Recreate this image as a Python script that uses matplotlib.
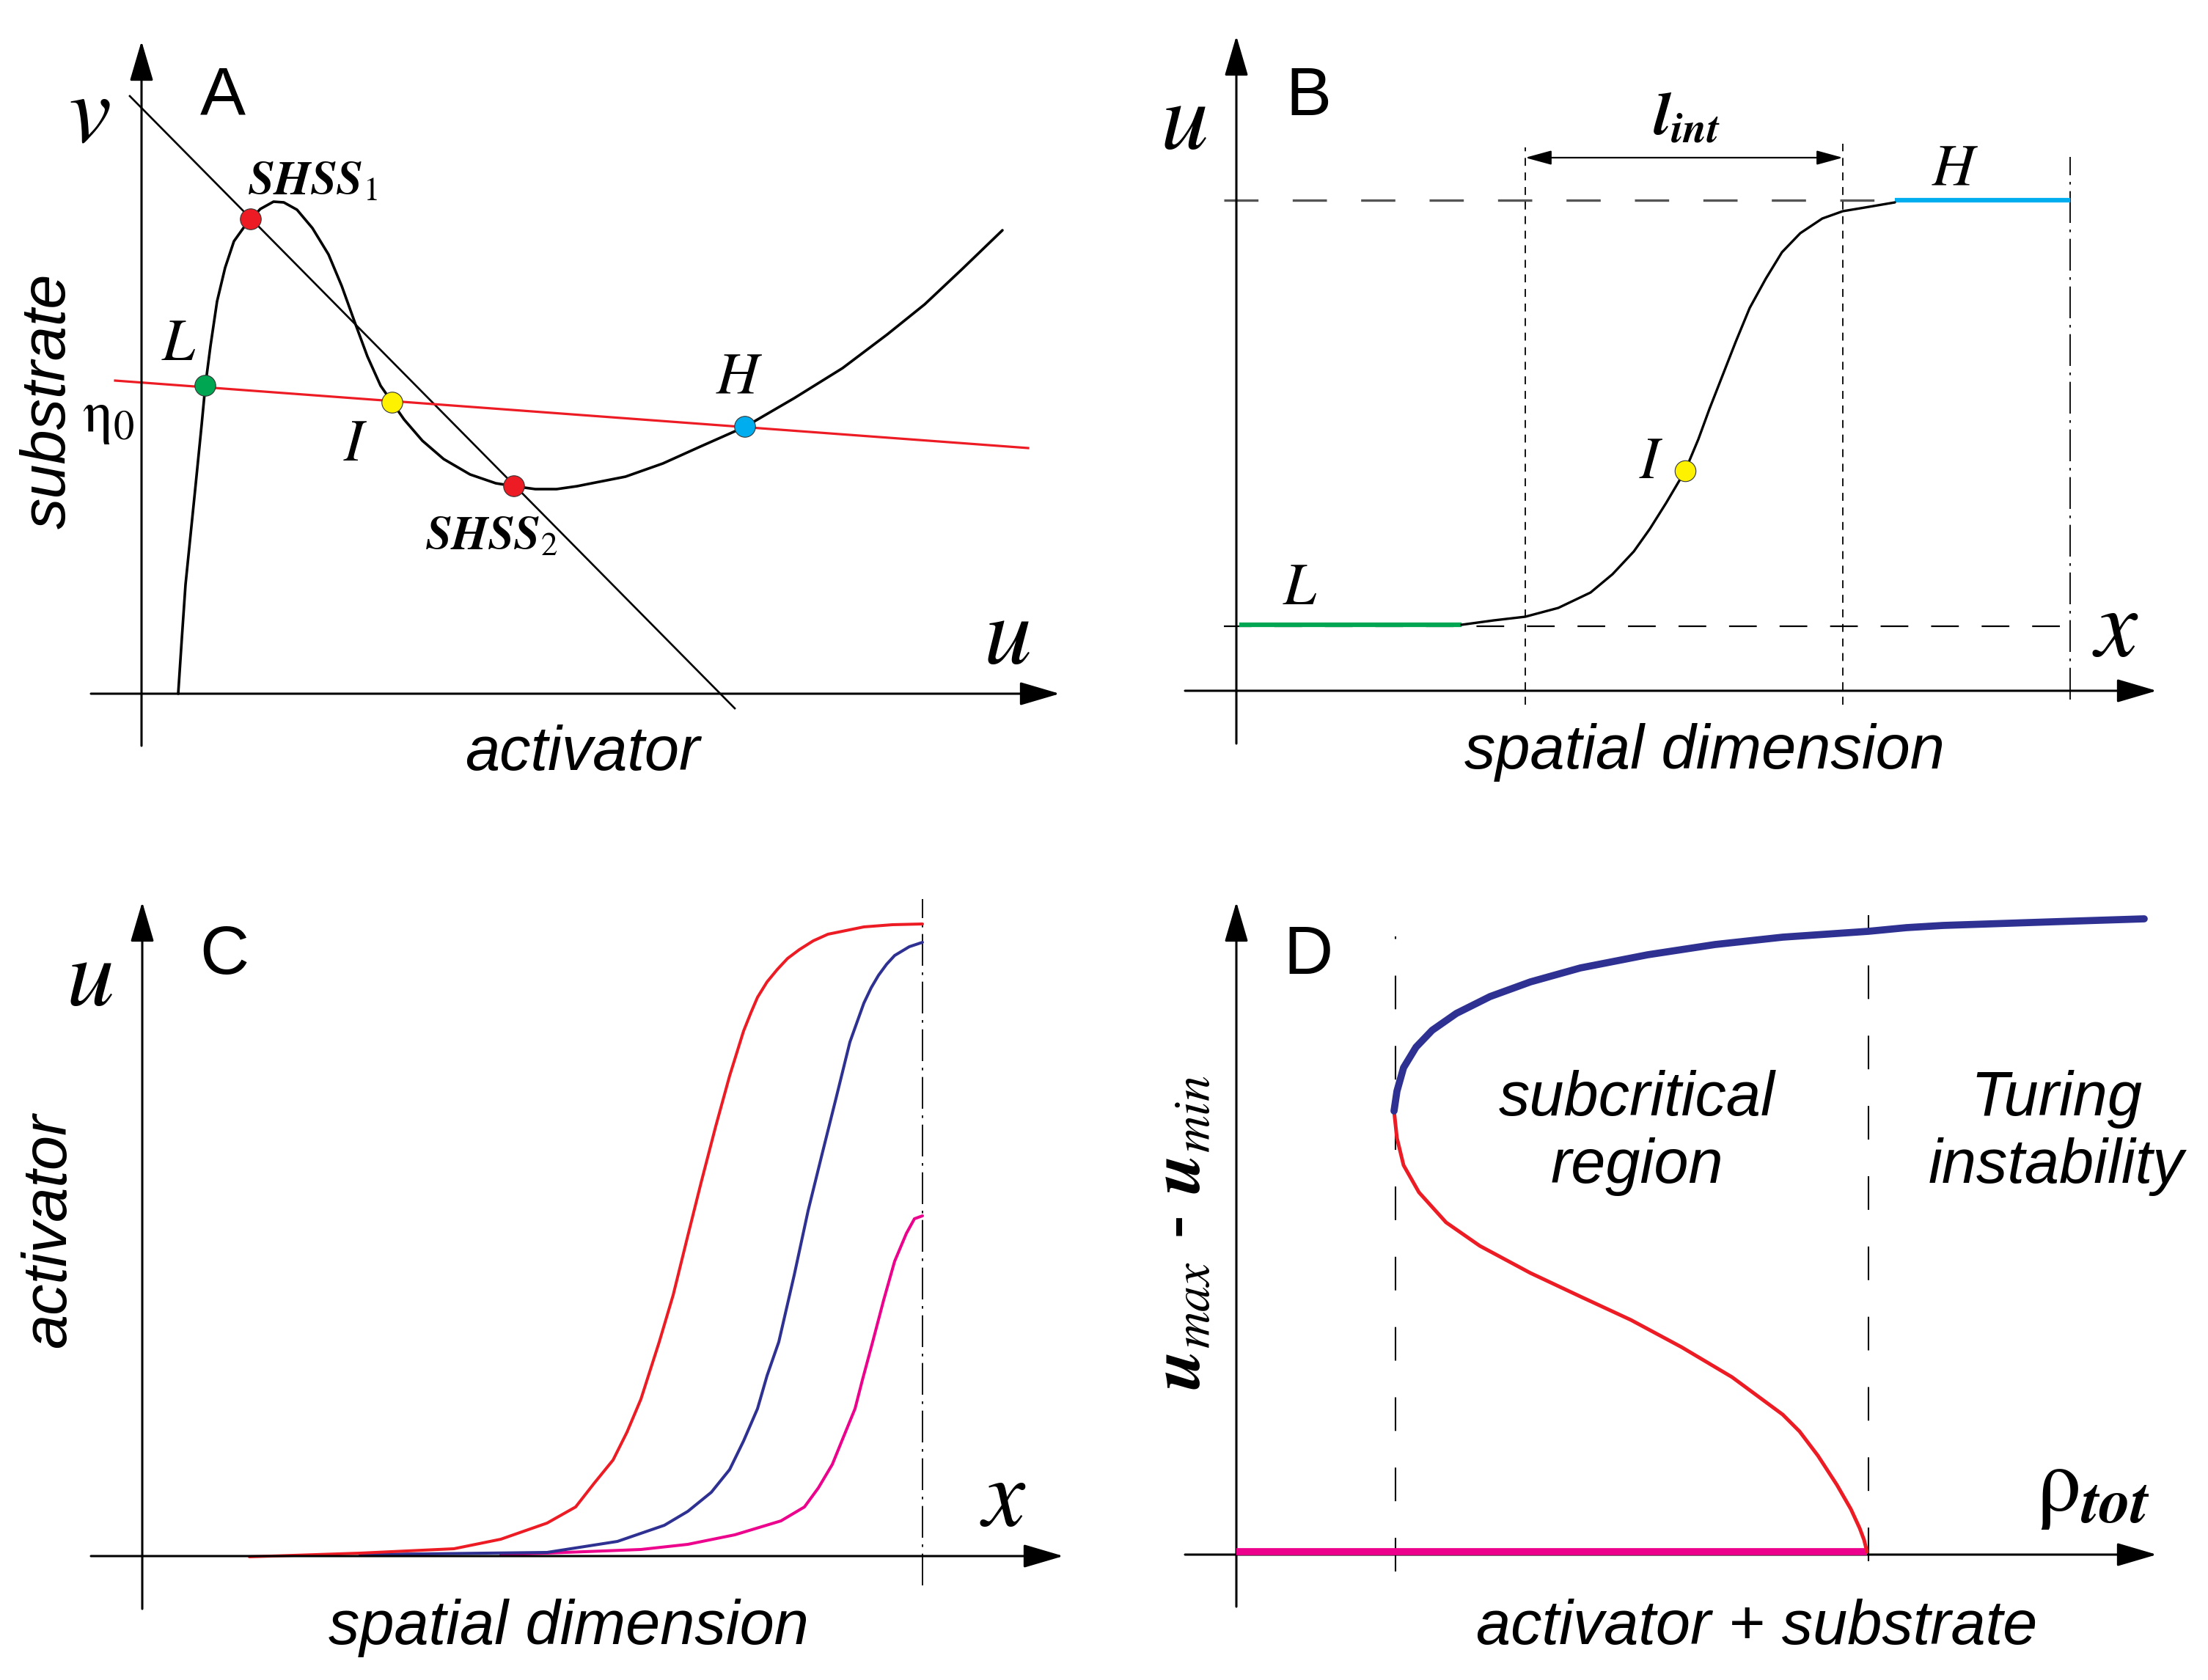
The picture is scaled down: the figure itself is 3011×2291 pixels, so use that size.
import matplotlib
matplotlib.use('Agg')
import matplotlib.pyplot as plt
from matplotlib.patches import FancyArrowPatch

plt.rcParams['mathtext.fontset'] = 'stix'
plt.rcParams['font.family'] = ['Liberation Sans', 'DejaVu Sans']

W, H = 3011, 2291

# ---- panel A: nullclines in the (u, v) plane
a_cubic_u = [0.50, 0.55, 0.60, 0.73, 0.82, 0.87, 0.94, 1.03, 1.14, 1.26, 1.41, 1.49,
             1.62, 1.80, 1.94, 2.12, 2.33, 2.55, 2.73, 2.91, 3.08, 3.26, 3.42, 3.58,
             3.83, 4.12, 4.48, 4.83, 5.08, 5.37, 5.66, 5.94, 6.09, 6.60, 7.11, 7.62,
             8.23, 8.90, 9.56, 10.17, 10.68, 11.19, 11.74]
a_cubic_v = [0.00, 0.76, 1.49, 2.77, 3.67, 4.20, 4.74, 5.35, 5.81, 6.17, 6.38, 6.47,
             6.61, 6.71, 6.70, 6.60, 6.35, 5.99, 5.56, 5.06, 4.60, 4.20, 3.97, 3.74,
             3.45, 3.20, 2.99, 2.87, 2.83, 2.79, 2.79, 2.83, 2.86, 2.96, 3.14, 3.37,
             3.64, 4.03, 4.44, 4.90, 5.31, 5.79, 6.32]
a_line_u = [-0.16, 8.09]
a_line_v = [8.15, -0.20]
a_eta_u = [-0.36, 12.09]
a_eta_v = [4.27, 3.35]
a_pts_u = [0.87, 1.49, 3.42, 5.08, 8.23]
a_pts_v = [4.20, 6.47, 3.97, 2.83, 3.64]
a_pts_col = ['#00a651', '#ed1c24', '#fff200', '#ed1c24', '#00aeef']

# ---- panel B: front profile
b_front_x = [3.07, 3.51, 3.94, 4.39, 4.83, 5.13, 5.42, 5.64, 5.86, 6.12, 6.30, 6.45,
             6.63, 6.81, 7.00, 7.22, 7.44, 7.69, 7.99, 8.27, 8.57, 8.98]
b_front_u = [0.90, 0.96, 1.01, 1.13, 1.34, 1.59, 1.90, 2.21, 2.56, 3.00, 3.43, 3.84,
             4.30, 4.76, 5.22, 5.62, 5.98, 6.24, 6.44, 6.54, 6.59, 6.66]
b_low_x = [0.04, 3.07]
b_low_u = [0.90, 0.90]
b_high_x = [8.98, 11.37]
b_high_u = [6.69, 6.69]
b_u_low = 0.88
b_u_high = 6.69
b_int_left, b_int_right = 3.94, 8.27
b_right_edge = 11.37
b_I = (6.12, 3.00)

# ---- panel C: activator profiles
c_red_x = [1.46, 2.97, 4.25, 4.89, 5.52, 5.91, 6.16, 6.42, 6.61, 6.80, 7.05, 7.24,
           7.43, 7.62, 7.82, 8.01, 8.20, 8.30, 8.39, 8.52, 8.66, 8.80, 8.96, 9.15,
           9.35, 9.84, 10.23, 10.64]
c_red_u = [-0.01, 0.04, 0.10, 0.23, 0.45, 0.67, 0.99, 1.31, 1.69, 2.14, 2.92, 3.56,
           4.33, 5.09, 5.86, 6.55, 7.16, 7.41, 7.62, 7.83, 8.00, 8.15, 8.27, 8.39,
           8.48, 8.58, 8.61, 8.62]
c_blue_x = [2.97, 5.52, 6.48, 7.12, 7.44, 7.76, 8.01, 8.20, 8.39, 8.52, 8.68, 8.89,
            9.08, 9.27, 9.46, 9.65, 9.84, 9.94, 10.04, 10.15, 10.26, 10.46, 10.64]
c_blue_u = [0.02, 0.05, 0.20, 0.42, 0.61, 0.87, 1.18, 1.57, 2.01, 2.46, 2.92, 3.83,
            4.71, 5.48, 6.24, 7.01, 7.54, 7.75, 7.92, 8.07, 8.19, 8.31, 8.37]
c_mag_x = [4.89, 5.52, 6.80, 7.44, 8.08, 8.71, 9.03, 9.22, 9.41, 9.54, 9.72, 9.82,
           9.96, 10.11, 10.26, 10.42, 10.53, 10.64]
c_mag_u = [0.02, 0.04, 0.09, 0.16, 0.29, 0.48, 0.67, 0.93, 1.25, 1.57, 2.01, 2.40,
           2.92, 3.49, 4.02, 4.40, 4.60, 4.64]
c_edge = 10.64

# ---- panel D: bifurcation diagram
d_blue_x = [2.15, 2.19, 2.28, 2.45, 2.67, 3.00, 3.46, 4.01, 4.69, 5.61, 6.53, 7.45,
            8.62, 9.14, 9.64, 11.14, 12.38]
d_blue_y = [6.05, 6.32, 6.64, 6.92, 7.15, 7.38, 7.61, 7.81, 8.00, 8.18, 8.32, 8.42,
            8.50, 8.55, 8.58, 8.63, 8.67]
d_red_x = [2.15, 2.19, 2.28, 2.49, 2.86, 3.32, 4.01, 4.69, 5.38, 6.07, 6.76, 7.45,
           7.68, 7.93, 8.19, 8.38, 8.50, 8.56, 8.60]
d_red_y = [6.05, 5.68, 5.31, 4.94, 4.53, 4.21, 3.84, 3.52, 3.20, 2.83, 2.42, 1.91,
           1.68, 1.35, 0.95, 0.62, 0.36, 0.20, 0.04]
d_mag_x = [0.00, 8.60]
d_mag_y = [0.04, 0.04]
d_sn = 2.17
d_turing = 8.62

RED = '#ed1c24'
BLUE = '#2e3192'
MAGENTA = '#ec008c'
GREEN = '#00a651'
CYAN = '#00aeef'
YELLOW = '#fff200'

SANS = dict(family=['Liberation Sans', 'DejaVu Sans'], style='italic', fontsize=61)
LETTER = dict(family=['Liberation Sans', 'DejaVu Sans'], fontsize=67)


def panel(fig, left, top, width, height, ox, oy):
    # axes placed in pixel units, 1 data unit = 100 px, origin at the axis crossing
    ax = fig.add_axes([left / W, 1 - (top + height) / H, width / W, height / H])
    ax.set_xlim((left - ox) / 100, (left + width - ox) / 100)
    ax.set_ylim((oy - top - height) / 100, (oy - top) / 100)
    ax.axis('off')
    return ax


def arrows(ax, x0, x1, y0, y1):
    for a, b in [((x0, 0), (x1, 0)), ((0, y0), (0, y1))]:
        ax.add_patch(FancyArrowPatch(a, b, arrowstyle='-|>,head_length=34,head_width=10',
                                     mutation_scale=1, lw=2.2, color='black',
                                     shrinkA=0, shrinkB=0, zorder=3))


def curve(ax, x, y, **kw):
    ax.plot(x, y, solid_joinstyle='round', solid_capstyle='round', **kw)


fig = plt.figure(figsize=(W / 100, H / 100), dpi=100)

# ================= A =================
ax = panel(fig, 0, 0, 1500, 1100, 193, 946)
arrows(ax, -0.69, 12.52, -0.71, 8.90)
ax.plot(a_line_u, a_line_v, color='black', lw=1.9)
ax.plot(a_eta_u, a_eta_v, color=RED, lw=2.3)
curve(ax, a_cubic_u, a_cubic_v, color='black', lw=2.6)
ax.scatter(a_pts_u, a_pts_v, s=420, c=a_pts_col, edgecolors='#333333', linewidths=0.8, zorder=5)
ax.text(-0.71, 7.88, r'$v$', fontsize=94, ha='center', va='center')
ax.text(1.11, 8.13, 'A', ha='center', va='center', **LETTER)
ax.text(-1.26, 3.99, 'substrate', rotation=90, ha='center', va='center', **SANS)
ax.text(6.01, -0.82, 'activator', ha='center', va='center', **SANS)
ax.text(11.80, 0.76, r'$u$', fontsize=94, ha='center', va='center')
ax.text(-0.45, 3.76, r'$\mathrm{\eta}_0$', fontsize=58, ha='center', va='center')
ax.text(0.51, 4.76, r'$L$', fontsize=58, ha='center', va='center')
ax.text(2.92, 3.39, r'$I$', fontsize=58, ha='center', va='center')
ax.text(8.15, 4.30, r'$H$', fontsize=58, ha='center', va='center')
ax.text(2.33, 6.97, r'$\mathbfit{SHSS}_{\mathit{1}}$', fontsize=46, ha='center', va='center')
ax.text(4.77, 2.13, r'$\mathbfit{SHSS}_{\mathit{2}}$', fontsize=46, ha='center', va='center')

# ================= B =================
ax = panel(fig, 1500, 0, 1511, 1100, 1686, 942)
arrows(ax, -0.70, 12.55, -0.72, 8.93)
ax.plot([-0.17, b_high_x[0]], [b_u_high, b_u_high], color='#555555', lw=2.4, dashes=(14, 14))
ax.plot([-0.17, 11.29], [b_u_low, b_u_low], color='black', lw=1.6, dashes=(17, 14))
for xv, top in [(b_int_left, 7.41), (b_int_right, 7.46)]:
    ax.plot([xv, xv], [-0.19, top], color='black', lw=1.3, dashes=(6, 5))
ax.plot([b_right_edge, b_right_edge], [-0.12, 7.28], color='black', lw=1.3,
        dashes=(24, 5, 2, 5))
ax.add_patch(FancyArrowPatch((b_int_left, 7.27), (b_int_right, 7.27),
                             arrowstyle='<|-|>,head_length=22,head_width=6',
                             mutation_scale=1, lw=1.6, color='black', shrinkA=0, shrinkB=0))
ax.plot(b_low_x, b_low_u, color=GREEN, lw=4.5, solid_capstyle='butt')
ax.plot(b_high_x, b_high_u, color=CYAN, lw=4.5, solid_capstyle='butt')
curve(ax, b_front_x, b_front_u, color='black', lw=2.4)
ax.scatter([b_I[0]], [b_I[1]], s=420, c=YELLOW, edgecolors='#333333', linewidths=0.8, zorder=5)
ax.text(-0.72, 7.74, r'$u$', fontsize=94, ha='center', va='center')
ax.text(0.98, 8.09, 'B', ha='center', va='center', **LETTER)
ax.text(6.14, 7.81, r'$\mathbfit{l}_{\mathbfit{int}}$', fontsize=60, ha='center', va='center')
ax.text(5.66, 3.11, r'$I$', fontsize=58, ha='center', va='center')
ax.text(0.87, 1.39, r'$L$', fontsize=58, ha='center', va='center')
ax.text(9.80, 7.11, r'$H$', fontsize=58, ha='center', va='center')
ax.text(11.99, 0.83, r'$x$', fontsize=94, ha='center', va='center')
ax.text(6.38, -0.84, 'spatial dimension', ha='center', va='center', **SANS)

# ================= C =================
ax = panel(fig, 0, 1150, 1500, 1141, 194, 2122)
arrows(ax, -0.70, 12.56, -0.72, 8.92)
ax.plot([c_edge, c_edge], [-0.40, 8.96], color='black', lw=1.3, dashes=(24, 5, 2, 5))
curve(ax, c_mag_x, c_mag_u, color=MAGENTA, lw=2.9)
curve(ax, c_blue_x, c_blue_u, color=BLUE, lw=2.9)
curve(ax, c_red_x, c_red_u, color=RED, lw=2.9)
ax.text(-0.72, 7.86, r'$u$', fontsize=94, ha='center', va='center')
ax.text(1.12, 8.18, 'C', ha='center', va='center', **LETTER)
ax.text(-1.27, 4.44, 'activator', rotation=90, ha='center', va='center', **SANS)
ax.text(11.74, 0.77, r'$x$', fontsize=94, ha='center', va='center')
ax.text(5.81, -0.98, 'spatial dimension', ha='center', va='center', **SANS)

# ================= D =================
ax = panel(fig, 1500, 1150, 1511, 1141, 1686, 2120)
arrows(ax, -0.70, 12.55, -0.71, 8.90)
ax.plot([d_sn, d_sn], [-0.23, 8.43], color='black', lw=1.5, dashes=(22, 24))
ax.plot([d_turing, d_turing], [-0.09, 8.72], color='black', lw=1.5, dashes=(22, 24))
ax.plot(d_mag_x, d_mag_y, color=MAGENTA, lw=7, solid_capstyle='butt', zorder=4)
curve(ax, d_red_x, d_red_y, color=RED, lw=3.6, zorder=4)
curve(ax, d_blue_x, d_blue_y, color=BLUE, lw=7, zorder=4)
ax.text(0.98, 8.16, 'D', ha='center', va='center', **LETTER)
ax.text(-0.75, 4.39, r'$\mathbfit{u}_{\mathit{max}}$ - $\mathbfit{u}_{\mathit{min}}$', rotation=90,
        fontsize=72, ha='center', va='center')
ax.text(11.68, 0.89, r'$\mathrm{\rho}_{\mathbfit{tot}}$', fontsize=88, ha='center', va='center')
ax.text(7.10, -1.00, 'activator + substrate', ha='center', va='center', **SANS)
ax.text(5.46, 5.75, 'subcritical\nregion', ha='center', va='center', linespacing=1.2, **SANS)
ax.text(11.18, 5.75, 'Turing\ninstability', ha='center', va='center', linespacing=1.2, **SANS)

fig.savefig('out.png', dpi=100)
